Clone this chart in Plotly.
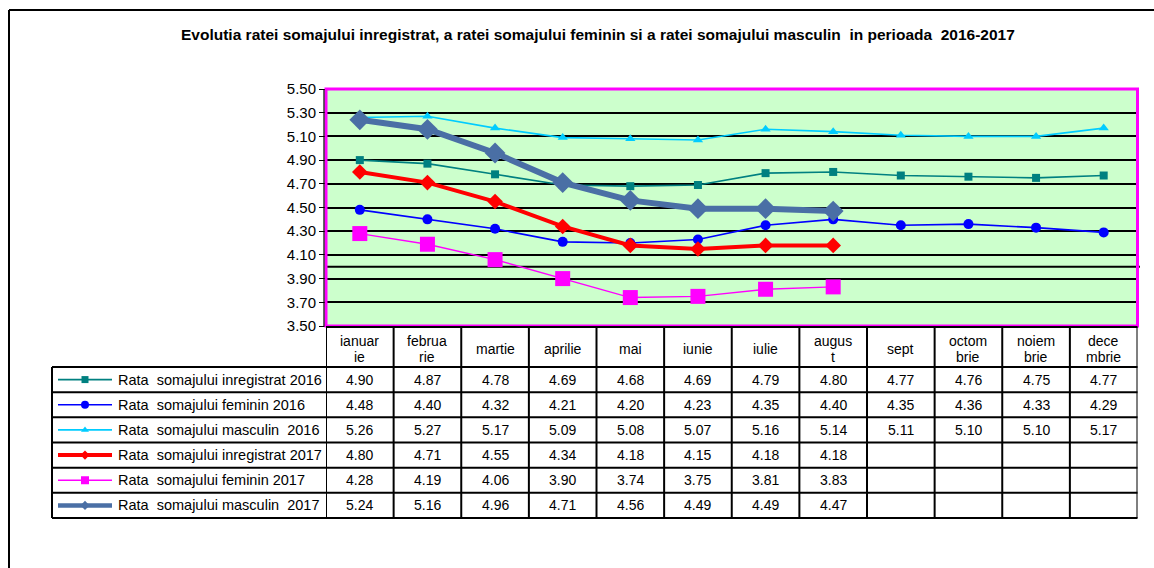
import plotly.graph_objects as go

W, H = 1154, 568

title_text = "Evolutia ratei somajului inregistrat, a ratei somajului feminin si a ratei somajului masculin  in perioada  2016-2017"

months = ["ianuar\nie", "februa\nrie", "martie", "aprilie", "mai", "iunie", "iulie",
          "augus\nt", "sept", "octom\nbrie", "noiem\nbrie", "dece\nmbrie"]

names = ["Rata  somajului inregistrat 2016", "Rata  somajului feminin 2016",
         "Rata  somajului masculin  2016", "Rata  somajului inregistrat 2017",
         "Rata  somajului feminin 2017", "Rata  somajului masculin  2017"]

inreg_2016 = [4.90, 4.87, 4.78, 4.69, 4.68, 4.69, 4.79, 4.80, 4.77, 4.76, 4.75, 4.77]
fem_2016 = [4.48, 4.40, 4.32, 4.21, 4.20, 4.23, 4.35, 4.40, 4.35, 4.36, 4.33, 4.29]
masc_2016 = [5.26, 5.27, 5.17, 5.09, 5.08, 5.07, 5.16, 5.14, 5.11, 5.10, 5.10, 5.17]
inreg_2017 = [4.80, 4.71, 4.55, 4.34, 4.18, 4.15, 4.18, 4.18, None, None, None, None]
fem_2017 = [4.28, 4.19, 4.06, 3.90, 3.74, 3.75, 3.81, 3.83, None, None, None, None]
masc_2017 = [5.24, 5.16, 4.96, 4.71, 4.56, 4.49, 4.49, 4.47, None, None, None, None]

series = [inreg_2016, fem_2016, masc_2016, inreg_2017, fem_2017, masc_2017]

y_ticks = [3.5, 3.7, 3.9, 4.1, 4.3, 4.5, 4.7, 4.9, 5.1, 5.3, 5.5]

# styles (color, line width, symbol, marker size, legend marker size)
styles = [
    ("#008080", 1.6, "square", 8, 7),
    ("#0000FF", 1.6, "circle", 10, 8),
    ("#00CCFF", 1.6, "triangle-up", 9, 7),
    ("#FF0000", 4, "diamond", 12, 7),
    ("#FF00FF", 1.4, "square", 15, 8),
    ("#4A6FA5", 6, "diamond", 16, 7),
]

FONT = "Liberation Sans, Arial, sans-serif"

# plot area in pixels
PX0, PX1 = 326, 1137.5
PY0, PY1 = 89, 326
TABLE_L = 52
HEADER_B = 367
ROW_H = (518 - 367) / 6


def px(x):
    return x / W


def py(y):
    return 1 - y / H


fig = go.Figure()
xs = list(range(len(months)))
for name, vals, (col, lw, sym, ms, _) in zip(names, series, styles):
    fig.add_trace(go.Scatter(
        x=xs, y=vals, mode="lines+markers", name=name,
        line=dict(color=col, width=lw),
        marker=dict(symbol=sym, size=ms, color=col, line=dict(width=0)),
        xaxis="x", yaxis="y", showlegend=False, cliponaxis=False,
    ))

# legend keys inside the data table (pixel-coordinate helper axes)
for i, (col, lw, sym, ms, lms) in enumerate(styles):
    yc = HEADER_B + ROW_H * (i + 0.5)
    fig.add_trace(go.Scatter(
        x=[58, 85, 112], y=[yc, yc, yc], mode="lines",
        line=dict(color=col, width=min(lw, 4.5)),
        xaxis="x2", yaxis="y2", showlegend=False, hoverinfo="skip",
    ))
    fig.add_trace(go.Scatter(
        x=[85], y=[yc], mode="markers",
        marker=dict(symbol=sym, size=lms, color=col),
        xaxis="x2", yaxis="y2", showlegend=False, hoverinfo="skip",
    ))

shapes = []
# green plot background
shapes.append(dict(type="rect", xref="paper", yref="paper",
                   x0=px(PX0), x1=px(PX1), y0=py(PY1), y1=py(PY0),
                   fillcolor="#CCFFCC", line=dict(width=0), layer="below"))
# extra grid line at 4.00
shapes.append(dict(type="line", xref="x domain", yref="y", x0=0, x1=1.003, y0=4.0, y1=4.0,
                   line=dict(color="black", width=1.8), layer="below"))
# magenta border
shapes.append(dict(type="rect", xref="paper", yref="paper",
                   x0=px(PX0), x1=px(PX1), y0=py(PY1), y1=py(PY0),
                   line=dict(color="#FF00FF", width=3), layer="above"))
# y axis line
shapes.append(dict(type="line", xref="paper", yref="paper",
                   x0=px(PX0 - 2), x1=px(PX0 - 2), y0=py(PY1), y1=py(PY0),
                   line=dict(color="black", width=1.2)))

# outer chart border
shapes.append(dict(type="line", xref="paper", yref="paper",
                   x0=px(9), x1=px(9), y0=py(10), y1=py(H + 5),
                   line=dict(color="black", width=2)))
shapes.append(dict(type="line", xref="paper", yref="paper",
                   x0=px(9), x1=px(W + 5), y0=py(10), y1=py(10),
                   line=dict(color="black", width=2)))

# table grid
tl = dict(color="black", width=2)
shapes.append(dict(type="line", xref="paper", yref="paper",
                   x0=px(PX0), x1=px(PX1), y0=py(PY1 + 1), y1=py(PY1 + 1), line=tl))
for r in range(7):
    yy = HEADER_B + ROW_H * r
    shapes.append(dict(type="line", xref="paper", yref="paper",
                       x0=px(TABLE_L), x1=px(PX1), y0=py(yy), y1=py(yy), line=tl))
shapes.append(dict(type="line", xref="paper", yref="paper",
                   x0=px(TABLE_L), x1=px(TABLE_L), y0=py(HEADER_B), y1=py(518), line=tl))
for k in range(len(months) + 1):
    shapes.append(dict(type="line", xref="x", yref="paper",
                       x0=k - 0.5, x1=k - 0.5, y0=py(PY1 + 1), y1=py(518), line=tl))

annotations = []
annotations.append(dict(text="<b>" + title_text + "</b>", xref="paper", yref="paper",
                        x=px(598), y=py(35), showarrow=False,
                        font=dict(family=FONT, size=15.5, color="black"),
                        xanchor="center", yanchor="middle"))

hdr_c = (PY1 + HEADER_B) / 2 + 2.5
for i, m in enumerate(months):
    parts = m.split("\n")
    n = len(parts)
    for j, p in enumerate(parts):
        yy = hdr_c + (j - (n - 1) / 2) * 15
        annotations.append(dict(text=p, xref="x", yref="paper", x=i, y=py(yy),
                                showarrow=False, xanchor="center", yanchor="middle",
                                font=dict(family=FONT, size=14, color="black")))

for r, (name, vals) in enumerate(zip(names, series)):
    yc = HEADER_B + ROW_H * (r + 0.5)
    annotations.append(dict(text=name.replace("  ", "&nbsp; "), xref="paper", yref="paper",
                            x=px(116), y=py(yc), showarrow=False,
                            xanchor="left", yanchor="middle",
                            font=dict(family=FONT, size=14.5, color="black")))
    for i, v in enumerate(vals):
        if v is None:
            continue
        annotations.append(dict(text=f"{v:.2f}", xref="x", yref="paper", x=i, y=py(yc),
                                showarrow=False, xanchor="center", yanchor="middle",
                                font=dict(family=FONT, size=14, color="black")))

fig.update_layout(
    width=W, height=H,
    margin=dict(l=0, r=0, t=0, b=0, pad=0),
    paper_bgcolor="white",
    plot_bgcolor="rgba(0,0,0,0)",
    showlegend=False,
    xaxis=dict(domain=[px(PX0), px(PX1)], range=[-0.5, len(months) - 0.5],
               showgrid=False, zeroline=False, showticklabels=False, ticks="",
               showline=False, fixedrange=True, anchor="y", automargin=False),
    yaxis=dict(domain=[py(PY1), py(PY0)], range=[3.5, 5.5],
               tickvals=y_ticks, ticktext=[f"{t:.2f}" for t in y_ticks],
               showgrid=True, gridcolor="black", gridwidth=1.8,
               zeroline=False, ticks="outside", ticklen=6, tickcolor="black",
               tickfont=dict(family=FONT, size=15, color="black"),
               showline=False, fixedrange=True, anchor="x", automargin=False),
    xaxis2=dict(domain=[0, 1], range=[0, W], visible=False, fixedrange=True, anchor="y2"),
    yaxis2=dict(domain=[0, 1], range=[H, 0], visible=False, fixedrange=True, anchor="x2"),
    shapes=shapes,
    annotations=annotations,
)

fig.write_html("out.html", config={"displayModeBar": False},
               post_script="document.body.style.margin='0px';")
